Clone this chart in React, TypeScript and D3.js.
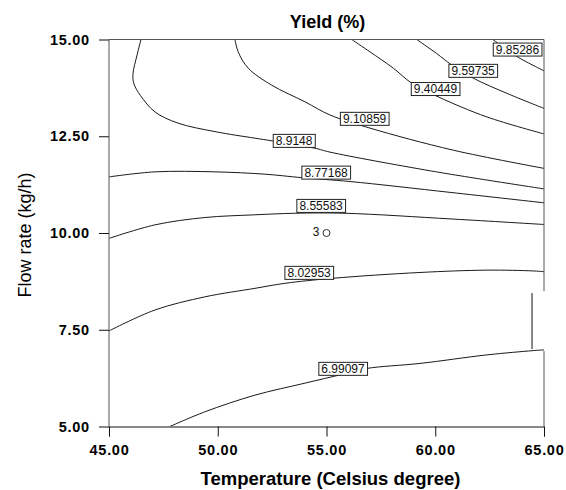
import { useEffect, useRef } from "react";
import * as d3 from "d3";

// contour levels of the yield surface, top-right to bottom
const levels = ["9.85286", "9.59735", "9.40449", "9.10859", "8.9148", "8.77168", "8.55583", "8.02953", "6.99097"];

// each contour as [temperature, flow rate] pairs
const c985286 = [[62.64, 15], [63.2, 14.78], [63.75, 14.56], [65, 14.19]];
const c959735 = [[59.15, 15], [60.06, 14.64], [60.76, 14.34], [61.75, 14.0], [63.29, 13.61], [65, 13.22]];
const c940449 = [[56.16, 15], [57.0, 14.68], [58.07, 14.26], [58.92, 13.87], [60.13, 13.52], [62.37, 13.0], [65, 12.56]];
const c910859 = [[50.79, 15], [50.94, 14.68], [51.4, 14.26], [52.48, 13.82], [54.01, 13.39], [55.16, 13.05], [57.0, 12.71], [60.83, 12.14], [65, 11.67]];
const c89148 = [[46.47, 15], [46.3, 14.62], [46.1, 14.1], [46.15, 13.85], [46.45, 13.55], [47.11, 13.13], [48.17, 12.84], [49.87, 12.62], [51.71, 12.45], [52.51, 12.38], [54.47, 12.19], [55.16, 12.09], [59.84, 11.6], [65, 11.14]];
const c877168 = [[45, 11.45], [47.11, 11.58], [49.87, 11.58], [52.17, 11.52], [53.86, 11.43], [56.08, 11.33], [60.68, 11.05], [65, 10.78]];
const c855583 = [[45, 9.86], [47.11, 10.21], [49.41, 10.4], [51.71, 10.47], [53.55, 10.51], [55.85, 10.51], [60.82, 10.36], [65, 10.22]];
const c802953 = [[45, 7.47], [47.11, 8.01], [49.41, 8.35], [51.71, 8.57], [53.09, 8.7], [55.29, 8.83], [59.3, 8.98], [62.37, 9.04], [64.49, 9.02], [65, 9.0]];
const c699097 = [[47.8, 5.0], [49.41, 5.38], [51.71, 5.81], [54.01, 6.12], [55.74, 6.35], [56.85, 6.5], [59.3, 6.63], [62.37, 6.85], [64.49, 6.96], [65, 6.98]];
const contourLines = [c985286, c959735, c940449, c910859, c89148, c877168, c855583, c802953, c699097];

// where each level label sits (temperature, flow rate)
const labelTemp = [63.78, 61.74, 60.01, 56.75, 53.51, 54.98, 54.75, 54.2, 55.76];
const labelFlow = [14.74, 14.19, 13.72, 12.95, 12.38, 11.56, 10.7, 8.97, 6.49];

// design point
const pointTemp = [55];
const pointFlow = [10];
const pointName = ["3"];

const tempTicks = [45, 50, 55, 60, 65];
const flowTicks = [5, 7.5, 10, 12.5, 15];

export default function App() {
  const svgRef = useRef(null);

  useEffect(() => {
    const width = 566;
    const height = 490;
    const margin = { top: 39.5, right: 22, bottom: 63.5, left: 109 };
    const font = "'Liberation Sans', Arial, sans-serif";

    d3.select(svgRef.current).selectAll("*").remove();
    const svg = d3
      .select(svgRef.current)
      .attr("width", width)
      .attr("height", height)
      .style("background", "#fff");

    const x = d3.scaleLinear().domain([45, 65]).range([margin.left, width - margin.right]);
    const y = d3.scaleLinear().domain([5, 15]).range([height - margin.bottom, margin.top]);

    svg
      .append("defs")
      .append("clipPath")
      .attr("id", "plotclip")
      .append("rect")
      .attr("x", x(45))
      .attr("y", y(15))
      .attr("width", x(65) - x(45))
      .attr("height", y(5) - y(15));

    // contours
    const line = d3
      .line()
      .x(d => x(d[0]))
      .y(d => y(d[1]))
      .curve(d3.curveCatmullRom.alpha(0.5));

    svg
      .append("g")
      .attr("clip-path", "url(#plotclip)")
      .selectAll("path")
      .data(contourLines)
      .enter()
      .append("path")
      .attr("d", d => line(d))
      .attr("fill", "none")
      .attr("stroke", "#1a1a1a")
      .attr("stroke-width", 1);

    // frame (the right edge has a small break with a stray segment)
    const frame = svg.append("g").attr("stroke", "#555").attr("stroke-width", 1).attr("fill", "none");
    frame.append("line").attr("x1", x(45)).attr("x2", x(65)).attr("y1", y(15)).attr("y2", y(15));
    frame.append("line").attr("x1", x(45)).attr("x2", x(45)).attr("y1", y(15)).attr("y2", y(5));
    frame.append("line").attr("x1", x(65)).attr("x2", x(65)).attr("y1", y(15)).attr("y2", y(8.5));
    frame.append("line").attr("x1", x(65)).attr("x2", x(65)).attr("y1", y(6.95)).attr("y2", y(5));
    frame.append("line").attr("stroke", "#111").attr("x1", x(64.45)).attr("x2", x(64.45)).attr("y1", y(8.45)).attr("y2", y(7.0));

    // axes
    const xAxis = d3.axisBottom(x).tickValues(tempTicks).tickFormat(d3.format(".2f")).tickSize(10).tickPadding(8.5);
    const yAxis = d3.axisLeft(y).tickValues(flowTicks).tickFormat(d3.format(".2f")).tickSize(10).tickPadding(10);

    const gx = svg.append("g").attr("transform", `translate(0, ${y(5)})`).call(xAxis);
    gx.select(".domain").attr("stroke", "#111");
    const gy = svg.append("g").attr("transform", `translate(${x(45)}, 0)`).call(yAxis);
    gy.select(".domain").remove();

    [gx, gy].forEach(g => {
      g.selectAll(".tick line").attr("stroke", "#111");
      g.selectAll(".tick text")
        .attr("fill", "#000")
        .style("font-family", font)
        .style("font-size", "14.5px")
        .style("font-weight", "bold")
        .style("letter-spacing", "0.7px");
    });
    gy.selectAll(".tick text").attr("dx", "0.7px");

    // level labels
    const labels = svg
      .append("g")
      .selectAll("g")
      .data(levels)
      .enter()
      .append("g")
      .attr("transform", (d, i) => `translate(${x(labelTemp[i])}, ${y(labelFlow[i])})`);

    labels
      .append("text")
      .attr("text-anchor", "middle")
      .attr("dy", "0.36em")
      .style("font-family", font)
      .style("font-size", "12px")
      .attr("fill", "#111")
      .text(d => d);

    labels.each(function () {
      const g = d3.select(this);
      const bb = g.select("text").node().getBBox();
      g.insert("rect", "text")
        .attr("x", bb.x - 2.5)
        .attr("y", -6.5)
        .attr("width", bb.width + 5)
        .attr("height", 13)
        .attr("fill", "#fff")
        .attr("stroke", "#222")
        .attr("stroke-width", 1);
    });

    // design point
    const pts = svg.append("g");
    pts
      .selectAll("circle")
      .data(pointTemp)
      .enter()
      .append("circle")
      .attr("cx", d => x(d))
      .attr("cy", (d, i) => y(pointFlow[i]))
      .attr("r", 3.5)
      .attr("fill", "none")
      .attr("stroke", "#333");
    pts
      .selectAll("text")
      .data(pointName)
      .enter()
      .append("text")
      .attr("x", (d, i) => x(pointTemp[i]) - 7)
      .attr("y", (d, i) => y(pointFlow[i]) + 2.5)
      .attr("text-anchor", "end")
      .style("font-family", font)
      .style("font-size", "12px")
      .attr("fill", "#111")
      .text(d => d);

    // titles
    svg
      .append("text")
      .attr("x", (x(45) + x(65)) / 2 + 1)
      .attr("y", 28)
      .attr("text-anchor", "middle")
      .style("font-family", font)
      .style("font-size", "18px")
      .style("font-weight", "bold")
      .text("Yield (%)");

    svg
      .append("text")
      .attr("x", (x(45) + x(65)) / 2 + 4)
      .attr("y", 485)
      .attr("text-anchor", "middle")
      .style("font-family", font)
      .style("font-size", "18.5px")
      .style("font-weight", "bold")
      .text("Temperature (Celsius degree)");

    svg
      .append("text")
      .attr("transform", `translate(31, ${y(10) + 2}) rotate(-90)`)
      .attr("text-anchor", "middle")
      .style("font-family", font)
      .style("font-size", "18px")
      .text("Flow rate (kg/h)");
  }, []);

  return <svg ref={svgRef} style={{ position: "absolute", left: 0, top: 0 }}></svg>;
}
